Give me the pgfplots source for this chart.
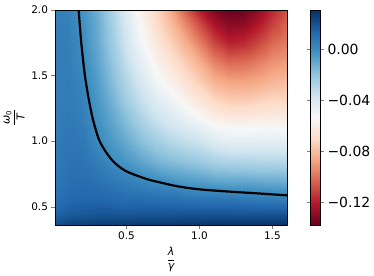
\documentclass[border=0pt]{standalone}
\usepackage{fontspec}
\setmainfont{DejaVu Sans}
\usepackage{pgfplots}
\pgfplotsset{compat=1.18}
\pgfplotstableread{
x y z
0.01 0.36 0.022
0.1 0.36 0.025
0.2 0.36 0.026
0.3 0.36 0.027
0.4 0.36 0.027
0.5 0.36 0.027
0.6 0.36 0.028
0.7 0.36 0.028
0.8 0.36 0.028
0.9 0.36 0.029
1.0 0.36 0.029
1.1 0.36 0.030
1.2 0.36 0.030
1.3 0.36 0.030
1.4 0.36 0.030
1.5 0.36 0.030
1.6 0.36 0.030
0.01 0.45 0.014
0.1 0.45 0.017
0.2 0.45 0.018
0.3 0.45 0.019
0.4 0.45 0.019
0.5 0.45 0.018
0.6 0.45 0.019
0.7 0.45 0.019
0.8 0.45 0.019
0.9 0.45 0.019
1.0 0.45 0.019
1.1 0.45 0.019
1.2 0.45 0.019
1.3 0.45 0.019
1.4 0.45 0.019
1.5 0.45 0.019
1.6 0.45 0.019
0.01 0.55 0.010
0.1 0.55 0.013
0.2 0.55 0.014
0.3 0.55 0.014
0.4 0.55 0.013
0.5 0.55 0.012
0.6 0.55 0.012
0.7 0.55 0.011
0.8 0.55 0.011
0.9 0.55 0.010
1.0 0.55 0.009
1.1 0.55 0.009
1.2 0.55 0.009
1.3 0.55 0.008
1.4 0.55 0.007
1.5 0.55 0.007
1.6 0.55 0.006
0.01 0.65 0.008
0.1 0.65 0.011
0.2 0.65 0.012
0.3 0.65 0.011
0.4 0.65 0.009
0.5 0.65 0.007
0.6 0.65 0.005
0.7 0.65 0.003
0.8 0.65 0.002
0.9 0.65 -0.001
1.0 0.65 -0.002
1.1 0.65 -0.003
1.2 0.65 -0.004
1.3 0.65 -0.004
1.4 0.65 -0.005
1.5 0.65 -0.006
1.6 0.65 -0.007
0.01 0.75 0.007
0.1 0.75 0.010
0.2 0.75 0.010
0.3 0.75 0.008
0.4 0.75 0.005
0.5 0.75 0.002
0.6 0.75 -0.002
0.7 0.75 -0.005
0.8 0.75 -0.008
0.9 0.75 -0.010
1.0 0.75 -0.012
1.1 0.75 -0.015
1.2 0.75 -0.016
1.3 0.75 -0.016
1.4 0.75 -0.017
1.5 0.75 -0.017
1.6 0.75 -0.018
0.01 0.85 0.006
0.1 0.85 0.009
0.2 0.85 0.009
0.3 0.85 0.005
0.4 0.85 0.000
0.5 0.85 -0.004
0.6 0.85 -0.009
0.7 0.85 -0.014
0.8 0.85 -0.017
0.9 0.85 -0.020
1.0 0.85 -0.022
1.1 0.85 -0.026
1.2 0.85 -0.028
1.3 0.85 -0.028
1.4 0.85 -0.029
1.5 0.85 -0.029
1.6 0.85 -0.030
0.01 1.0 0.006
0.1 1.0 0.008
0.2 1.0 0.007
0.3 1.0 0.001
0.4 1.0 -0.005
0.5 1.0 -0.011
0.6 1.0 -0.018
0.7 1.0 -0.024
0.8 1.0 -0.029
0.9 1.0 -0.033
1.0 1.0 -0.036
1.1 1.0 -0.042
1.2 1.0 -0.045
1.3 1.0 -0.045
1.4 1.0 -0.045
1.5 1.0 -0.045
1.6 1.0 -0.046
0.01 1.15 0.005
0.1 1.15 0.007
0.2 1.15 0.005
0.3 1.15 -0.002
0.4 1.15 -0.009
0.5 1.15 -0.017
0.6 1.15 -0.026
0.7 1.15 -0.034
0.8 1.15 -0.039
0.9 1.15 -0.045
1.0 1.15 -0.050
1.1 1.15 -0.056
1.2 1.15 -0.059
1.3 1.15 -0.059
1.4 1.15 -0.058
1.5 1.15 -0.058
1.6 1.15 -0.058
0.01 1.3 0.005
0.1 1.3 0.006
0.2 1.3 0.004
0.3 1.3 -0.004
0.4 1.3 -0.013
0.5 1.3 -0.023
0.6 1.3 -0.033
0.7 1.3 -0.042
0.8 1.3 -0.048
0.9 1.3 -0.056
1.0 1.3 -0.063
1.1 1.3 -0.070
1.2 1.3 -0.074
1.3 1.3 -0.074
1.4 1.3 -0.072
1.5 1.3 -0.070
1.6 1.3 -0.070
0.01 1.45 0.005
0.1 1.45 0.006
0.2 1.45 0.002
0.3 1.45 -0.006
0.4 1.45 -0.017
0.5 1.45 -0.028
0.6 1.45 -0.040
0.7 1.45 -0.050
0.8 1.45 -0.057
0.9 1.45 -0.066
1.0 1.45 -0.074
1.1 1.45 -0.083
1.2 1.45 -0.087
1.3 1.45 -0.087
1.4 1.45 -0.085
1.5 1.45 -0.082
1.6 1.45 -0.080
0.01 1.6 0.005
0.1 1.6 0.005
0.2 1.6 0.000
0.3 1.6 -0.008
0.4 1.6 -0.020
0.5 1.6 -0.033
0.6 1.6 -0.046
0.7 1.6 -0.057
0.8 1.6 -0.065
0.9 1.6 -0.075
1.0 1.6 -0.084
1.1 1.6 -0.096
1.2 1.6 -0.102
1.3 1.6 -0.101
1.4 1.6 -0.097
1.5 1.6 -0.092
1.6 1.6 -0.089
0.01 1.75 0.005
0.1 1.75 0.005
0.2 1.75 -0.001
0.3 1.75 -0.010
0.4 1.75 -0.023
0.5 1.75 -0.037
0.6 1.75 -0.051
0.7 1.75 -0.063
0.8 1.75 -0.073
0.9 1.75 -0.084
1.0 1.75 -0.096
1.1 1.75 -0.110
1.2 1.75 -0.119
1.3 1.75 -0.117
1.4 1.75 -0.110
1.5 1.75 -0.102
1.6 1.75 -0.097
0.01 1.9 0.005
0.1 1.9 0.004
0.2 1.9 -0.002
0.3 1.9 -0.011
0.4 1.9 -0.025
0.5 1.9 -0.040
0.6 1.9 -0.055
0.7 1.9 -0.069
0.8 1.9 -0.080
0.9 1.9 -0.095
1.0 1.9 -0.109
1.1 1.9 -0.124
1.2 1.9 -0.131
1.3 1.9 -0.130
1.4 1.9 -0.122
1.5 1.9 -0.112
1.6 1.9 -0.103
0.01 2.0 0.005
0.1 2.0 0.004
0.2 2.0 -0.003
0.3 2.0 -0.012
0.4 2.0 -0.026
0.5 2.0 -0.042
0.6 2.0 -0.058
0.7 2.0 -0.072
0.8 2.0 -0.085
0.9 2.0 -0.104
1.0 2.0 -0.120
1.1 2.0 -0.132
1.2 2.0 -0.137
1.3 2.0 -0.137
1.4 2.0 -0.129
1.5 2.0 -0.118
1.6 2.0 -0.107
}\fielddata
\begin{document}
\begin{tikzpicture}
\path[use as bounding box] (-55bp,-51bp) rectangle (319bp,225bp);
\begin{axis}[
  at={(0,0)}, anchor=south west,
  scale only axis, width=232bp, height=215bp,
  view={0}{90},
  xmin=0.01, xmax=1.6, ymin=0.36, ymax=2.0,
  xtick={0.5,1.0,1.5}, xticklabels={0.5,1.0,1.5},
  ytick={0.5,1.0,1.5,2.0}, yticklabels={0.5,1.0,1.5,2.0},
  tick align=outside, xtick pos=left, ytick pos=left,
  major tick length=3.5bp,
  ticklabel style={font=\fontsize{10.5}{12}\selectfont},
  xlabel={$\displaystyle\frac{\mbox{\itshape λ}}{\mbox{\itshape γ}}$},
  ylabel={$\displaystyle\frac{\mbox{\itshape ω}_{\mbox{\scriptsize 0}}}{\mbox{\itshape T}}$},
  label style={font=\fontsize{11}{13}\selectfont},
  colormap={rdbu}{rgb255=(103,0,31) rgb255=(178,24,43) rgb255=(214,96,77) rgb255=(244,165,130) rgb255=(253,219,199) rgb255=(247,247,247) rgb255=(209,229,240) rgb255=(146,197,222) rgb255=(67,147,195) rgb255=(33,102,172) rgb255=(5,48,97)},
  point meta min=-0.138, point meta max=0.031,
  colorbar,
  colorbar style={
    at={(parent axis.north east)}, anchor=north west, xshift=15bp,
    scale only axis, width=10bp, height=215bp,
    ytick={-0.12,-0.08,-0.04,0},
    yticklabels={−0.12,−0.08,−0.04,0.00},
    yticklabel style={font=\fontsize{14}{16}\selectfont},
    tick align=outside, major tick length=3.5bp,
  },
  axis on top,
]
\addplot3[surf, shader=interp, mesh/cols=17] table[x=x,y=y,z=z] {\fielddata};
\addplot3[black, line width=2.2bp, smooth, no marks] coordinates {
(0.172,2.0,0) (0.19,1.75,0) (0.215,1.5,0) (0.243,1.31,0) (0.271,1.16,0) (0.312,1.01,0) (0.363,0.91,0) (0.42,0.833,0) (0.5,0.769,0) (0.637,0.711,0) (0.729,0.685,0) (0.85,0.655,0) (1.0,0.632,0) (1.2,0.615,0) (1.4,0.601,0) (1.6,0.586,0)};
\end{axis}
\end{tikzpicture}
\end{document}
